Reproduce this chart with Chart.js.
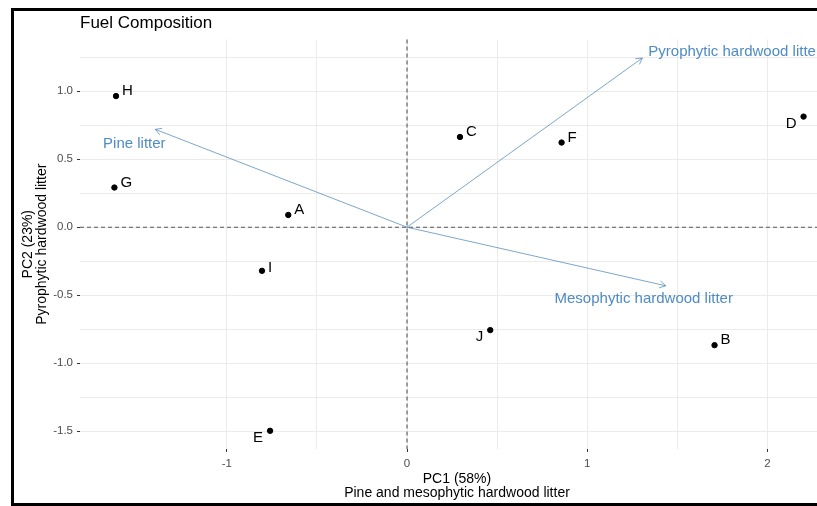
<!DOCTYPE html>
<html>
<head>
<meta charset="utf-8">
<script src="https://cdn.jsdelivr.net/npm/chart.js@4.4.1/dist/chart.umd.min.js"></script>
<style>
  html, body { margin: 0; padding: 0; background: #fff; overflow: hidden; }
  #frame { position: absolute; left: 11px; top: 8px; width: 830px; height: 492px; border: 3px solid #000; background: #fff; }
  canvas { display: block; }
</style>
</head>
<body>
<div id="frame"><canvas id="biplot" width="830" height="492"></canvas></div>
<script>
// sample scores (PC1, PC2)
var sampleNames = ['A', 'B', 'C', 'D', 'E', 'F', 'G', 'H', 'I', 'J'];
var pc1 = [-0.659, 1.707, 0.294, 2.201, -0.760, 0.858, -1.624, -1.615, -0.805, 0.462];
var pc2 = [0.090, -0.868, 0.664, 0.814, -1.498, 0.623, 0.292, 0.965, -0.321, -0.757];
// which side of the dot each label sits on
var labelSide = ['ne', 'ne', 'ne', 'sw', 'sw', 'ne', 'ne', 'ne', 'e', 'sw'];

// variable loadings (arrows)
var loadingNames = ['Pyrophytic hardwood litter', 'Pine litter', 'Mesophytic hardwood litter'];
var loadPC1 = [1.306, -1.397, 1.436];
var loadPC2 = [1.245, 0.720, -0.431];
// text nudge from arrow tip: [dx, dy, align]
var loadLabelNudge = [[6, -6, 'left'], [-21, 14, 'center'], [-22, 13, 'center']];

// tick labels
var xTicks = [-1, 0, 1, 2];
var yTicks = [-1.5, -1.0, -0.5, 0.0, 0.5, 1.0];

var arrowLine = 'rgba(70,130,180,0.7)';
var arrowText = '#4f8bc4';
var labelFont = "15px 'Liberation Sans', Arial, sans-serif";

Chart.defaults.font.family = "'Liberation Sans', Arial, sans-serif";

function isTick(list, v) {
    return list.some(function(t) { return Math.abs(t - v) < 1e-6; });
}
function onStep(step) {
    return function(scale) {
        scale.ticks = scale.ticks.filter(function(t) {
            return Math.abs(t.value / step - Math.round(t.value / step)) < 1e-6;
        });
    };
}

var points = sampleNames.map(function(n, i) { return { x: pc1[i], y: pc2[i] }; });

// zero lines, loading arrows and point labels
var biplotExtras = {
    id: 'biplotExtras',
    beforeDatasetsDraw: function(chart) {
        var ctx = chart.ctx, xs = chart.scales.x, ys = chart.scales.y, a = chart.chartArea;
        var x0 = xs.getPixelForValue(0), y0 = ys.getPixelForValue(0);
        ctx.save();
        ctx.strokeStyle = '#555';
        ctx.lineWidth = 1.1;
        ctx.setLineDash([4, 3]);
        ctx.beginPath();
        ctx.moveTo(x0, a.top); ctx.lineTo(x0, a.bottom);
        ctx.moveTo(a.left, y0); ctx.lineTo(a.right, y0);
        ctx.stroke();
        ctx.setLineDash([]);

        ctx.strokeStyle = arrowLine;
        ctx.lineWidth = 1;
        ctx.font = labelFont;
        ctx.textBaseline = 'middle';
        loadingNames.forEach(function(name, i) {
            var tx = xs.getPixelForValue(loadPC1[i]), ty = ys.getPixelForValue(loadPC2[i]);
            var ang = Math.atan2(ty - y0, tx - x0), len = 7, spread = Math.PI / 6;
            ctx.beginPath();
            ctx.moveTo(x0, y0); ctx.lineTo(tx, ty);
            ctx.moveTo(tx - len * Math.cos(ang - spread), ty - len * Math.sin(ang - spread));
            ctx.lineTo(tx, ty);
            ctx.lineTo(tx - len * Math.cos(ang + spread), ty - len * Math.sin(ang + spread));
            ctx.stroke();
            var nd = loadLabelNudge[i];
            ctx.fillStyle = arrowText;
            ctx.textAlign = nd[2];
            ctx.fillText(name, tx + nd[0], ty + nd[1]);
        });
        ctx.restore();
    },
    afterDatasetsDraw: function(chart) {
        var ctx = chart.ctx, meta = chart.getDatasetMeta(0);
        ctx.save();
        ctx.fillStyle = '#000';
        ctx.font = labelFont;
        ctx.textBaseline = 'middle';
        meta.data.forEach(function(pt, i) {
            var side = labelSide[i];
            if (side === 'sw') {
                ctx.textAlign = 'right';
                ctx.fillText(sampleNames[i], pt.x - 7, pt.y + 7);
            } else if (side === 'e') {
                ctx.textAlign = 'left';
                ctx.fillText(sampleNames[i], pt.x + 6, pt.y - 3);
            } else {
                ctx.textAlign = 'left';
                ctx.fillText(sampleNames[i], pt.x + 6, pt.y - 5);
            }
        });
        ctx.restore();
    }
};

new Chart(document.getElementById('biplot'), {
    type: 'scatter',
    data: {
        datasets: [{
            data: points,
            backgroundColor: '#000',
            borderColor: '#000',
            pointRadius: 2.7,
            pointHoverRadius: 2.7
        }]
    },
    options: {
        responsive: false,
        animation: false,
        layout: { padding: { left: 0, right: 10, top: 0, bottom: 0 } },
        plugins: {
            legend: { display: false },
            tooltip: { enabled: false },
            title: {
                display: true,
                text: 'Fuel Composition',
                align: 'start',
                fullSize: false,
                color: '#000',
                font: { size: 17, weight: 'normal' },
                padding: { top: 2, bottom: 6 }
            }
        },
        scales: {
            x: {
                type: 'linear',
                min: -1.815,
                max: 2.37,
                afterBuildTicks: onStep(0.5),
                afterFit: function(s) { s.height = 54; },
                ticks: {
                    stepSize: 0.5,
                    autoSkip: false,
                    maxRotation: 0,
                    padding: 5,
                    color: '#4d4d4d',
                    font: { size: 11.5 },
                    callback: function(v) { return isTick(xTicks, v) ? String(Math.round(v)) : ''; }
                },
                grid: {
                    color: '#ebebeb',
                    lineWidth: 1,
                    tickLength: 3,
                    tickWidth: 1,
                    tickColor: function(c) { return c.tick && isTick(xTicks, c.tick.value) ? '#333' : 'rgba(0,0,0,0)'; }
                },
                border: { display: false },
                title: {
                    display: true,
                    text: ['PC1 (58%)', 'Pine and mesophytic hardwood litter'],
                    color: '#000',
                    font: { size: 14, lineHeight: 1.0 },
                    padding: { top: 0, bottom: 3 }
                }
            },
            y: {
                type: 'linear',
                min: -1.632,
                max: 1.382,
                afterBuildTicks: onStep(0.25),
                afterFit: function(s) { s.width = 66; },
                ticks: {
                    stepSize: 0.25,
                    autoSkip: false,
                    padding: 4,
                    color: '#4d4d4d',
                    font: { size: 11.5 },
                    callback: function(v) { return isTick(yTicks, v) ? (Math.round(v * 100) / 100).toFixed(1) : ''; }
                },
                grid: {
                    color: '#ebebeb',
                    lineWidth: 1,
                    tickLength: 3,
                    tickWidth: 1,
                    tickColor: function(c) { return c.tick && isTick(yTicks, c.tick.value) ? '#333' : 'rgba(0,0,0,0)'; }
                },
                border: { display: false },
                title: {
                    display: true,
                    text: ['PC2 (23%)', 'Pyrophytic hardwood litter'],
                    color: '#000',
                    font: { size: 14, lineHeight: 1.0 },
                    padding: { top: 7, bottom: 0 }
                }
            }
        }
    },
    plugins: [biplotExtras]
});
</script>
</body>
</html>
